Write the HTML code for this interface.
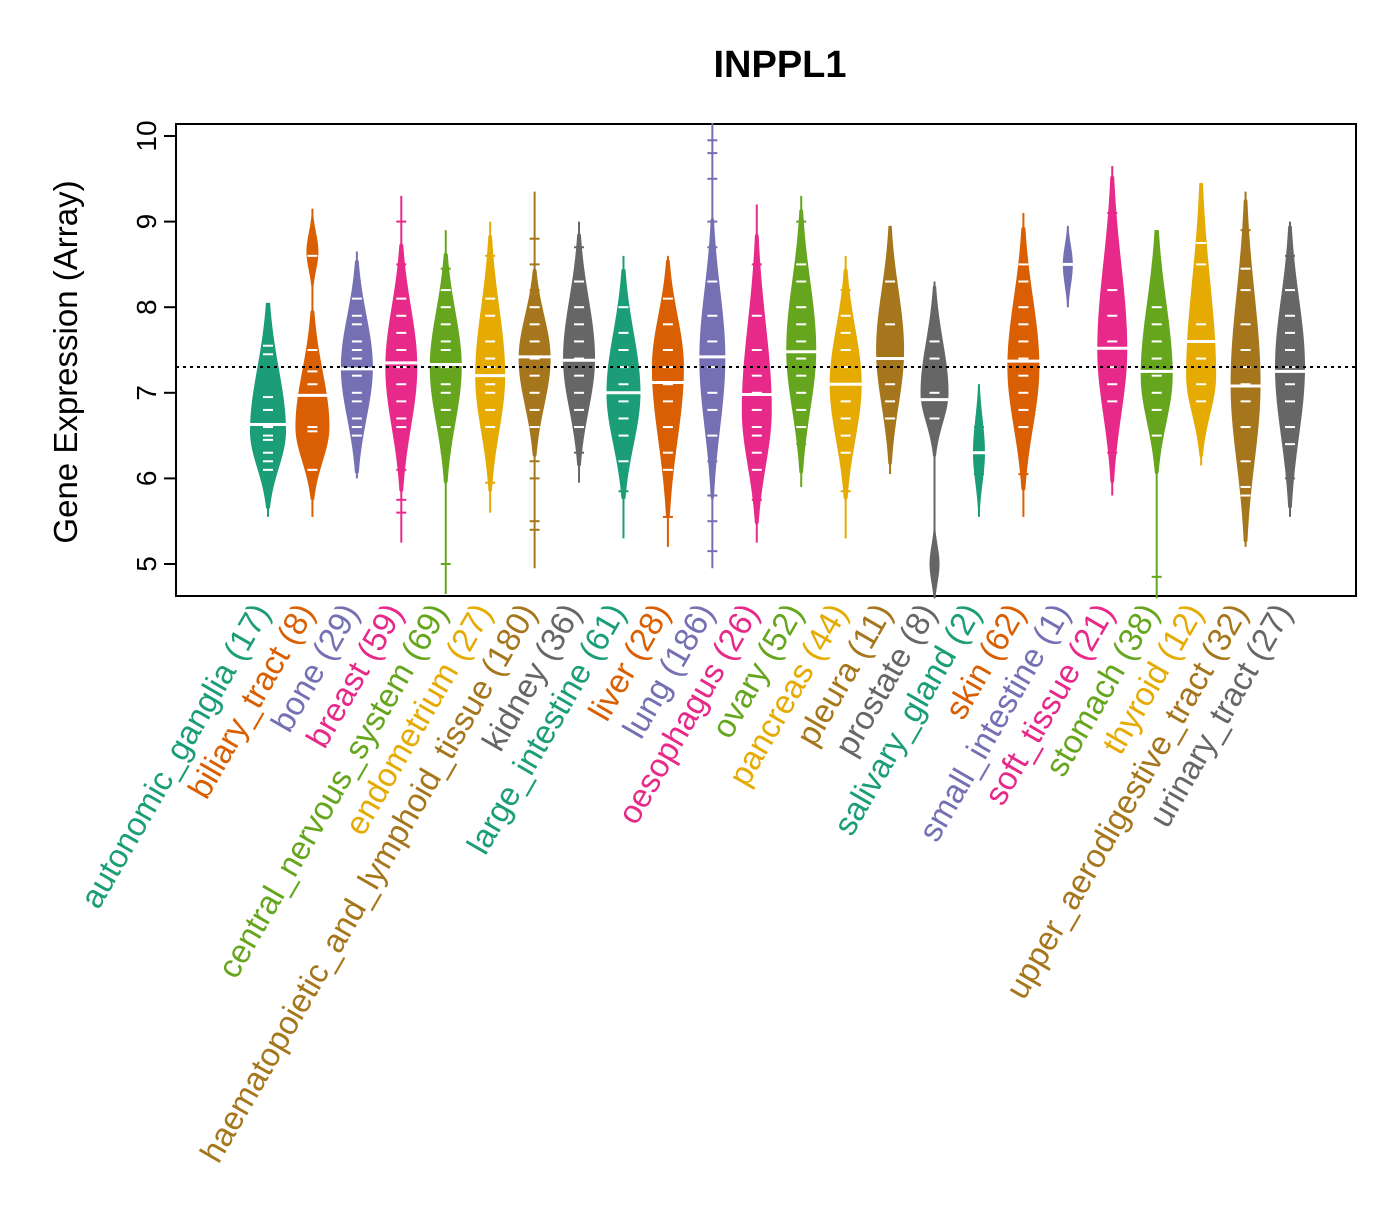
<!DOCTYPE html>
<html><head><meta charset="utf-8"><style>
html,body{margin:0;padding:0;background:#fff;}
svg text{font-family:"Liberation Sans",Arial,sans-serif;}
</style></head><body>
<svg id="chart" width="1400" height="1200" xmlns="http://www.w3.org/2000/svg">
<text x="780" y="77" font-size="38" font-weight="bold" text-anchor="middle">INPPL1</text>
<text transform="translate(77,362) rotate(-90)" font-size="33" text-anchor="middle">Gene Expression (Array)</text>
<rect x="176" y="124" width="1180" height="472" fill="none" stroke="#000" stroke-width="2"/>
<g id="yaxis"></g>
<g id="beans"></g>
<line x1="176" x2="1356" y1="367" y2="367" stroke="#000" stroke-width="2" stroke-dasharray="3,4"/>
<g id="labels"></g>
</svg>
<script>
const categories=["autonomic_ganglia","biliary_tract","bone","breast","central_nervous_system","endometrium","haematopoietic_and_lymphoid_tissue","kidney","large_intestine","liver","lung","oesophagus","ovary","pancreas","pleura","prostate","salivary_gland","skin","small_intestine","soft_tissue","stomach","thyroid","upper_aerodigestive_tract","urinary_tract"];
const counts=[17,8,29,59,69,27,180,36,61,28,186,26,52,44,11,8,2,62,1,21,38,12,32,27];
const mins=[5.55,5.55,6.0,5.25,4.65,5.6,4.95,5.95,5.3,5.2,4.95,5.25,5.9,5.3,6.05,4.6,5.55,5.55,8.0,5.8,4.6,6.15,5.2,5.55];
const maxs=[8.05,9.15,8.65,9.3,8.9,9.0,9.35,9.0,8.6,8.6,10.15,9.2,9.3,8.6,8.95,8.3,7.1,9.1,8.95,9.65,8.9,9.45,9.35,9.0];
const medians=[6.63,6.97,7.28,7.35,7.33,7.2,7.42,7.38,7.0,7.12,7.42,6.98,7.48,7.1,7.4,6.92,6.3,7.37,8.5,7.52,7.25,7.6,7.08,7.25];
const modes=[6.55,6.6,7.3,7.3,7.3,7.2,7.4,7.4,7.0,7.3,7.4,6.8,7.5,7.1,7.5,7.0,6.3,7.3,8.5,7.5,7.2,7.2,7.1,7.3];
const coreLo=[5.7,5.8,6.1,5.9,6.0,5.9,6.3,6.2,5.8,5.6,5.8,5.5,6.1,5.8,6.2,6.3,5.6,5.9,8.0,6.0,6.1,6.3,5.3,5.7];
const coreHi=[8.0,7.9,8.5,8.7,8.6,8.8,8.4,8.8,8.4,8.5,9.0,8.8,9.1,8.4,8.9,8.2,7.1,8.9,8.95,9.5,8.9,9.4,9.2,8.9];
const peakWidths=[18,17,16,16,16,15,16,16,17,16,13,15,15,16,14,14,6,16,5,15,16,15,15,15];
const bumpCat=[1,15];
const bumpVal=[8.65,5.0];
const bumpWid=[6,5];
const points=[
[6.1,6.2,6.3,6.45,6.5,6.6,6.8,6.95,7.45,7.55],
[6.1,6.55,6.6,7.1,7.25,7.5,8.6],
[6.5,6.6,6.7,6.9,7.0,7.2,7.4,7.5,7.6,7.8,7.9,8.1],
[5.6,5.75,6.1,6.6,6.7,6.9,7.1,7.3,7.5,7.7,7.9,8.1,8.5,9.0],
[5.0,6.3,6.6,6.8,7.0,7.1,7.3,7.5,7.6,7.8,8.0,8.2,8.45],
[5.95,6.6,6.8,7.0,7.1,7.3,7.4,7.6,7.9,8.1,8.6],
[5.4,5.5,6.0,6.2,6.6,6.8,7.0,7.2,7.4,7.6,7.8,8.0,8.2,8.5,8.8],
[6.3,6.6,6.8,7.0,7.2,7.4,7.6,7.8,8.0,8.3,8.7],
[5.85,6.2,6.5,6.7,6.9,7.1,7.3,7.5,7.7,8.0],
[5.55,6.1,6.3,6.6,6.9,7.1,7.3,7.5,7.8,8.1],
[5.15,5.5,5.8,6.2,6.5,6.8,7.0,7.3,7.6,7.9,8.3,8.7,9.0,9.5,9.8,9.95],
[5.75,6.1,6.3,6.5,6.6,6.8,7.0,7.2,7.5,7.9,8.5],
[6.4,6.6,6.8,7.0,7.2,7.4,7.6,7.8,8.0,8.3,8.5,9.0],
[5.85,6.3,6.5,6.7,6.9,7.1,7.3,7.5,7.7,7.9,8.2],
[6.7,6.9,7.1,7.4,7.8,8.3],
[5.0,6.7,7.0,7.4,7.6],
[6.05,6.6],
[6.05,6.6,6.8,7.0,7.2,7.4,7.6,7.8,8.0,8.3,8.5],
[8.5],
[6.3,6.9,7.1,7.3,7.6,7.9,8.2,9.1],
[4.85,6.5,6.8,7.0,7.2,7.4,7.6,7.8,8.0,8.5],
[6.9,7.1,7.4,7.8,8.5,8.75],
[5.8,5.9,6.2,6.6,6.9,7.1,7.3,7.5,7.8,8.2,8.45,8.9],
[6.0,6.4,6.6,6.9,7.1,7.3,7.5,7.7,7.9,8.2,8.6]
];
const yTicks=[5,6,7,8,9,10];
const palette=["#1B9E77","#D95F02","#7570B3","#E7298A","#66A61E","#E6AB02","#A6761D","#666666"];
const NS="http://www.w3.org/2000/svg";
const yScale=v=>564-(v-5)*85.6;
const xScale=i=>268+i*(1290-268)/23;
function mk(tag,attrs,parent){const e=document.createElementNS(NS,tag);for(const k in attrs)e.setAttribute(k,attrs[k]);parent.appendChild(e);return e;}
const yaxis=document.getElementById('yaxis');
yTicks.forEach(t=>{
 const y=yScale(t);
 const l=mk('line',{x1:164,x2:176,y1:y,y2:y,stroke:'#000','stroke-width':2},yaxis);
 
 
 const tx=mk('text',{transform:`translate(156,${y}) rotate(-90)`,'font-size':28,'text-anchor':'middle'},yaxis);
 tx.textContent=t;
 
 
});
const beans=document.getElementById('beans');
categories.forEach((c,i)=>{
 const col=palette[i%8],cx=xScale(i);
 const g=mk('g',{},beans);
 
 
 const vl=mk('line',{x1:cx,x2:cx,y1:yScale(mins[i]),y2:yScale(maxs[i]),stroke:col,'stroke-width':2},g);
 
 
 const sL=Math.max((modes[i]-coreLo[i])/2.0,0.05),sH=Math.max((coreHi[i]-modes[i])/2.0,0.05);
 const wf=v=>{let w=0;
   if(v>=coreLo[i]-0.05&&v<=coreHi[i]+0.05){const s=v<modes[i]?sL:sH;w=peakWidths[i]*Math.exp(-0.5*Math.pow((v-modes[i])/s,2));}
   bumpCat.forEach((b,k)=>{if(b===i)w=Math.max(w,bumpWid[k]*Math.exp(-0.5*Math.pow((v-bumpVal[k])/0.22,2)));});
   return w;};
 const n=120,left=[],right=[];
 for(let k=0;k<=n;k++){const v=mins[i]+(maxs[i]-mins[i])*k/n;const w=wf(v);const y=yScale(v);right.push(`${cx+w},${y}`);left.unshift(`${cx-w},${y}`);}
 const p=mk('polygon',{points:right.concat(left).join(' '),fill:col},g);
 
 
 points[i].forEach(v=>{const y=yScale(v);const inside=wf(v)>5;
  const pl=mk('line',{x1:cx-5,x2:cx+5,y1:y,y2:y,stroke:inside?'#fff':col,'stroke-width':2},g);
  
  });
 const mw=Math.max(peakWidths[i],6)+1,my=yScale(medians[i]);
 const ml=mk('line',{x1:cx-mw,x2:cx+mw,y1:my,y2:my,stroke:'#fff','stroke-width':3},g);
 
 
});
const labels=document.getElementById('labels');
categories.forEach((c,i)=>{
 const x=xScale(i)+3,y=612;
 const t=mk('text',{transform:`translate(${x},${y}) rotate(-60)`,'font-size':33,'text-anchor':'end',fill:palette[i%8]},labels);
 t.textContent=`${c} (${counts[i]})`;
 
 
});
</script>
</body></html>
